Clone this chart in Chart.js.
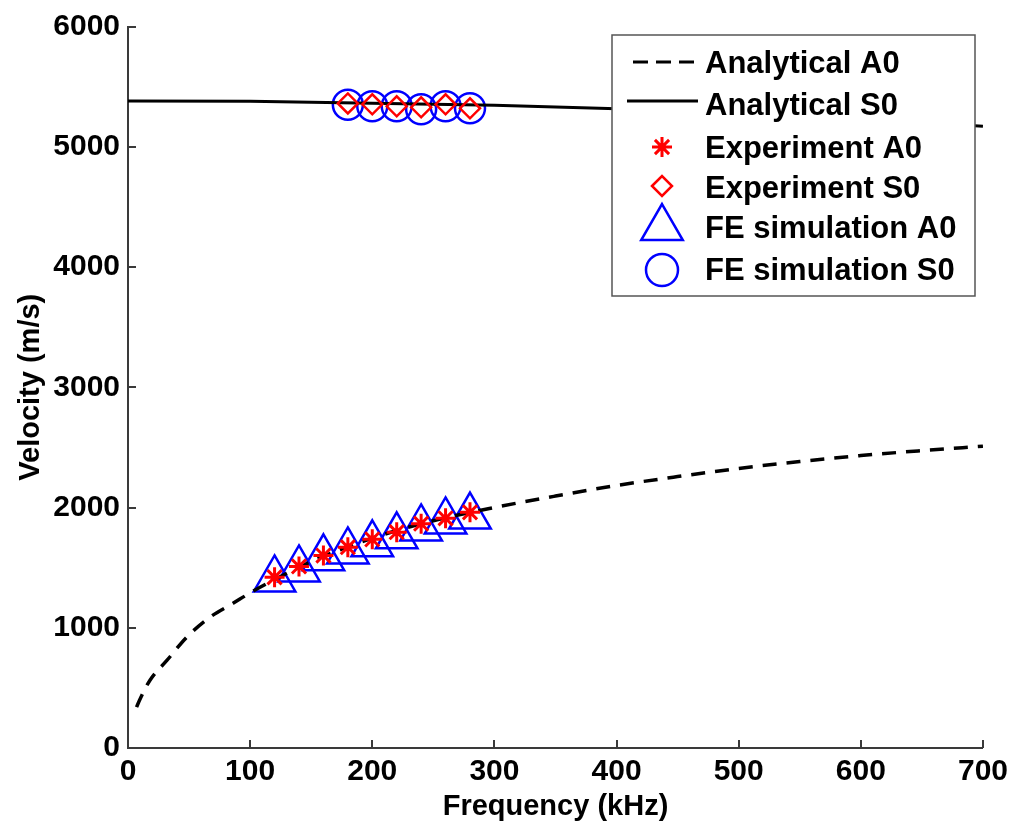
<!DOCTYPE html>
<html>
<head>
<meta charset="utf-8">
<script src="https://cdn.jsdelivr.net/npm/chart.js@4/dist/chart.umd.min.js"></script>
<style>
  html, body { margin: 0; padding: 0; background: #fff; }
  canvas { display: block; }
</style>
</head>
<body>
<canvas id="c" width="1014" height="829"></canvas>
<script>
// ---- data ----
const xTicks = [0, 100, 200, 300, 400, 500, 600, 700];
const yTicks = [0, 1000, 2000, 3000, 4000, 5000, 6000];

const a0Freq = [7, 10, 18, 32, 48, 67, 86, 100, 120, 150, 200, 250, 300, 350, 400, 450, 500, 550, 600, 650, 700];
const a0Vel  = [340, 410, 564, 730, 921, 1087, 1203, 1290, 1400, 1550, 1745, 1890, 2000, 2095, 2183, 2257, 2325, 2382, 2432, 2473, 2510];

const s0Freq = [0, 100, 200, 300, 400, 500, 600, 700];
const s0Vel  = [5380, 5378, 5362, 5345, 5315, 5275, 5230, 5170];

const expA0Freq = [120, 140, 160, 180, 200, 220, 240, 260, 280];
const expA0Vel  = [1420, 1510, 1600, 1670, 1735, 1795, 1865, 1910, 1960];

const expS0Freq = [180, 200, 220, 240, 260, 280];
const expS0Vel  = [5360, 5353, 5336, 5328, 5353, 5320];

const feA0Freq = [120, 140, 160, 180, 200, 220, 240, 260, 280];
const feA0Vel  = [1402, 1485, 1577, 1635, 1694, 1760, 1826, 1884, 1925];

const feS0Freq = [180, 200, 220, 240, 260, 280];
const feS0Vel  = [5350, 5336, 5336, 5311, 5336, 5320];

const legendLabels = ['Analytical A0', 'Analytical S0', 'Experiment A0', 'Experiment S0', 'FE simulation A0', 'FE simulation S0'];

const xTitle = 'Frequency (kHz)';
const yTitle = 'Velocity (m/s)';

// ---- helpers ----
const pts = (xs, ys) => xs.map((x, i) => ({ x: x, y: ys[i] }));
const FONT = '"Liberation Sans", Arial, Helvetica, sans-serif';
const AXIS_COLOR = '#3a3a3a';

const legendEntries = [
  { type: 'line', dash: [15, 8], color: '#000' },
  { type: 'line', dash: [], color: '#000' },
  { type: 'point', style: 'star', r: 10, color: '#ff0000', bw: 3 },
  { type: 'point', style: 'rectRot', r: 10, color: '#ff0000', bw: 2.5 },
  { type: 'point', style: 'triangle', r: 24, color: '#0000ff', bw: 2.5 },
  { type: 'point', style: 'circle', r: 16, color: '#0000ff', bw: 2.5 }
];

const insideTicks = {
  id: 'insideTicks',
  afterDatasetsDraw(chart) {
    const { ctx, chartArea, scales } = chart;
    const x = scales.x, y = scales.y;
    ctx.save();
    ctx.strokeStyle = AXIS_COLOR;
    ctx.lineWidth = 2;
    ctx.beginPath();
    x.ticks.forEach(t => {
      const px = Math.round(x.getPixelForValue(t.value));
      ctx.moveTo(px, chartArea.bottom);
      ctx.lineTo(px, chartArea.bottom - 8);
    });
    y.ticks.forEach(t => {
      const py = Math.round(y.getPixelForValue(t.value));
      ctx.moveTo(chartArea.left, py);
      ctx.lineTo(chartArea.left + 8, py);
    });
    ctx.stroke();
    ctx.restore();
  }
};

const boxLegend = {
  id: 'boxLegend',
  afterDraw(chart) {
    const ctx = chart.ctx;
    const bx = 612, by = 35, bw = 363, bh = 261;
    const rowBase = [73, 115, 158, 198, 238, 280];
    const rowMid = [62, 101, 147, 186, 228, 270];
    ctx.save();
    ctx.fillStyle = '#fff';
    ctx.fillRect(bx, by, bw, bh);
    ctx.strokeStyle = '#555';
    ctx.lineWidth = 1.5;
    ctx.strokeRect(bx, by, bw, bh);
    legendEntries.forEach((e, i) => {
      ctx.save();
      if (e.type === 'line') {
        ctx.strokeStyle = e.color;
        ctx.lineWidth = 3;
        ctx.setLineDash(e.dash);
        ctx.beginPath();
        ctx.moveTo(e.dash.length ? 633 : 627, rowMid[i]);
        ctx.lineTo(698, rowMid[i]);
        ctx.stroke();
      } else {
        ctx.strokeStyle = e.color;
        ctx.fillStyle = 'rgba(0,0,0,0)';
        ctx.lineWidth = e.bw;
        Chart.helpers.drawPoint(ctx, { pointStyle: e.style, radius: e.r, rotation: 0, borderWidth: e.bw }, 662, rowMid[i]);
      }
      ctx.restore();
      ctx.fillStyle = '#000';
      ctx.font = 'bold 31px ' + FONT;
      ctx.textBaseline = 'alphabetic';
      ctx.textAlign = 'left';
      ctx.fillText(legendLabels[i], 705, rowBase[i]);
    });
    ctx.restore();
  }
};

const markerDs = (label, xs, ys, style, r, color, bw, order) => ({
  label: label,
  data: pts(xs, ys),
  showLine: false,
  pointStyle: style,
  pointRadius: r,
  pointHoverRadius: r,
  pointBorderColor: color,
  pointBackgroundColor: 'rgba(0,0,0,0)',
  pointBorderWidth: bw,
  clip: false,
  order: order
});

new Chart(document.getElementById('c'), {
  type: 'scatter',
  data: {
    datasets: [
      {
        label: legendLabels[0],
        data: pts(a0Freq, a0Vel),
        showLine: true,
        borderColor: '#000',
        borderWidth: 3.5,
        borderDash: [14, 10],
        pointRadius: 0,
        cubicInterpolationMode: 'monotone',
        order: 1
      },
      {
        label: legendLabels[1],
        data: pts(s0Freq, s0Vel),
        showLine: true,
        borderColor: '#000',
        borderWidth: 3,
        pointRadius: 0,
        order: 1
      },
      markerDs(legendLabels[2], expA0Freq, expA0Vel, 'star', 10, '#ff0000', 3, 0),
      markerDs(legendLabels[3], expS0Freq, expS0Vel, 'rectRot', 10, '#ff0000', 2.5, 0),
      markerDs(legendLabels[4], feA0Freq, feA0Vel, 'triangle', 24, '#0000ff', 2.5, 2),
      markerDs(legendLabels[5], feS0Freq, feS0Vel, 'circle', 15, '#0000ff', 2.5, 2)
    ]
  },
  options: {
    responsive: false,
    devicePixelRatio: 1,
    animation: false,
    layout: { padding: { top: 25, right: 28, left: 0, bottom: 0 } },
    plugins: { legend: { display: false }, tooltip: { enabled: false } },
    scales: {
      x: {
        type: 'linear',
        min: xTicks[0],
        max: xTicks[xTicks.length - 1],
        afterBuildTicks(scale) { scale.ticks = xTicks.map(v => ({ value: v })); },
        afterFit(scale) { scale.height = 81; },
        grid: { display: true, drawOnChartArea: false, drawTicks: false, color: 'rgba(0,0,0,0)' },
        border: { display: true, color: AXIS_COLOR, width: 2 },
        ticks: { color: '#000', padding: 6, maxRotation: 0, callback: v => String(v), font: { family: FONT, size: 30, weight: 'bold' } },
        title: { display: true, text: xTitle, color: '#000', padding: { top: 0, bottom: 5 }, font: { family: FONT, size: 29, weight: 'bold' } }
      },
      y: {
        type: 'linear',
        min: yTicks[0],
        max: yTicks[yTicks.length - 1],
        afterBuildTicks(scale) { scale.ticks = yTicks.map(v => ({ value: v })); },
        afterFit(scale) { scale.width = 128; },
        grid: { display: true, drawOnChartArea: false, drawTicks: false, color: 'rgba(0,0,0,0)' },
        border: { display: true, color: AXIS_COLOR, width: 2 },
        ticks: { color: '#000', padding: 8, callback: v => String(v), font: { family: FONT, size: 30, weight: 'bold' } },
        title: { display: true, text: yTitle, color: '#000', padding: { top: 14, bottom: 0 }, font: { family: FONT, size: 29, weight: 'bold' } }
      }
    }
  },
  plugins: [insideTicks, boxLegend]
});
</script>
</body>
</html>
